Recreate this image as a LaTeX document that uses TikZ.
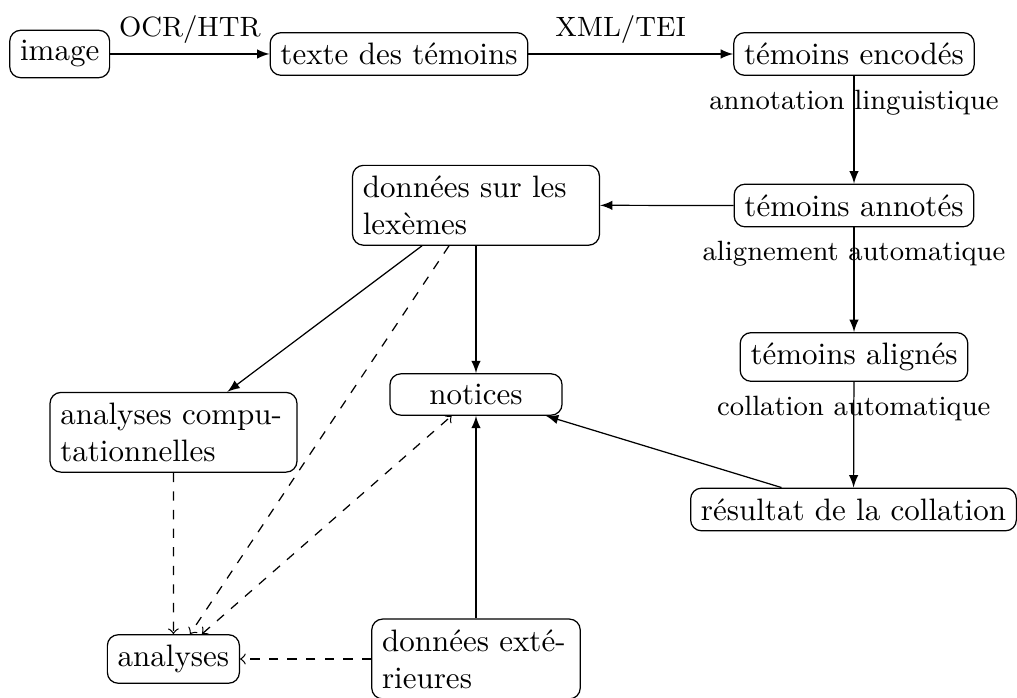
\documentclass[tikz,border=0pt]{standalone}
\usepackage{fontspec}
\begin{document}
\begin{tikzpicture}[x=0.3226pt,y=-0.3226pt,
  box/.style={draw, rounded corners=3.5pt, inner sep=3.33pt},
  wide/.style={box, text width=#1, align=left},
  lab/.style={font=\small},
  sarr/.style={-latex},
  darr/.style={dashed,->}]
\useasboundingbox (0,0) rectangle (1017,698);
\node[box] (image) at (59.7,54) {image};
\node[box] (texte) at (399,54) {texte des témoins};
\node[box] (encodes) at (854,54) {témoins encodés};
\node[box] (annotes) at (854,205.5) {témoins annotés};
\node[wide=73pt] (lexemes) at (476,205.3) {données sur les\\lexèmes};
\node[box] (alignes) at (854,357) {témoins alignés};
\node[box, minimum width=55.5pt] (notices) at (476,394.5) {notices};
\node[wide=73pt] (comput) at (173.5,432.3) {analyses compu-\\tationnelles};
\node[box] (resultat) at (853.5,509.5) {résultat de la collation};
\node[box] (analyses) at (173.4,659) {analyses};
\node[wide=60.6pt] (exter) at (476,659) {données exté-\\rieures};

\draw[sarr] (image) -- node[lab, above] {OCR/HTR} (texte);
\draw[sarr] (texte) -- node[lab, above, pos=0.45] {XML/TEI} (encodes);
\draw[sarr] (encodes) -- node[lab, near start] {annotation linguistique} (annotes);
\draw[sarr] (annotes) -- (lexemes);
\draw[sarr] (annotes) -- node[lab, near start] {alignement automatique} (alignes);
\draw[sarr] (alignes) -- node[lab, near start] {collation automatique} (resultat);
\draw[sarr] (resultat) -- (notices);
\draw[sarr] (lexemes) -- (notices);
\draw[sarr] (lexemes) -- (comput);
\draw[darr] (lexemes) -- (analyses);
\draw[darr] (comput) -- (analyses);
\draw[dashed, <->] (analyses) -- (notices);
\draw[sarr] (exter) -- (notices);
\draw[darr] (exter) -- (analyses);
\end{tikzpicture}
\end{document}
